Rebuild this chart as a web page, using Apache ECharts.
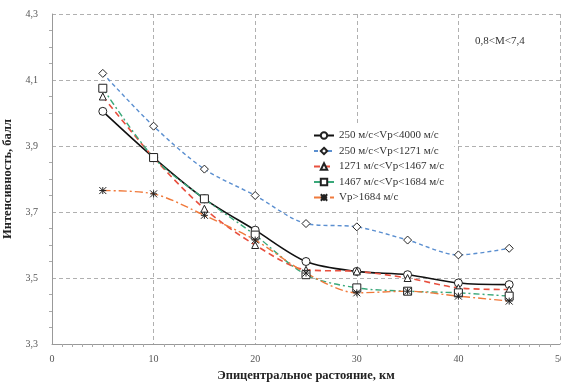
<!DOCTYPE html>
<html>
<head>
<meta charset="utf-8">
<script src="https://cdn.jsdelivr.net/npm/echarts@6/dist/echarts.min.js"></script>
<style>html,body{margin:0;padding:0;background:#fff}#c{width:561px;height:386px}</style>
</head>
<body>
<div id="c"></div>
<script>
var distances = [5, 10, 15, 20, 25, 30, 35, 40, 45];
var seriesNames = ['250 м/с<Vp<4000 м/с', '250 м/с<Vp<1271 м/с', '1271 м/с<Vp<1467 м/с', '1467 м/с<Vp<1684 м/с', 'Vp>1684 м/с'];
var sAll   = [4.005, 3.865, 3.74, 3.645, 3.55, 3.52, 3.51, 3.485, 3.48];
var s1271  = [4.12, 3.96, 3.83, 3.75, 3.665, 3.655, 3.615, 3.57, 3.59];
var s1467  = [4.05, 3.865, 3.71, 3.60, 3.525, 3.52, 3.50, 3.47, 3.465];
var s1684  = [4.075, 3.865, 3.74, 3.63, 3.51, 3.47, 3.46, 3.455, 3.445];
var sHigh  = [3.765, 3.755, 3.69, 3.615, 3.515, 3.455, 3.46, 3.445, 3.43];
var noteText = '0,8<M<7,4';

function pairs(v){ return distances.map(function(x,i){ return [x, v[i]]; }); }
var star = 'path://M0,0L10,10M10,0L0,10M5,0L5,10M0,5L10,5';
var font = 'Liberation Serif, Times New Roman, serif';

function mk(name, data, color, lineType, symbol, width, symSize){
  return {
    name: name, type: 'line', data: pairs(data), smooth: 0.3,
    symbol: symbol, symbolSize: symSize || 7, showAllSymbol: true,
    lineStyle: {color: color, type: lineType, width: width},
    itemStyle: {color: '#fff', borderColor: '#222', borderWidth: 1},
    emphasis: {disabled: true}
  };
}

var chart = echarts.init(document.getElementById('c'), null, {renderer: 'canvas'});
chart.setOption({
  animation: false,
  backgroundColor: '#fff',
  textStyle: {fontFamily: font},
  grid: {left: 52, top: 14, right: 1, bottom: 42, containLabel: false, outerBoundsMode: 'none'},
  xAxis: {
    type: 'value', min: 0, max: 50, interval: 10,
    name: 'Эпицентральное растояние, км', nameLocation: 'middle', nameGap: 25,
    nameTextStyle: {fontFamily: font, fontWeight: 'bold', fontSize: 12.5, color: '#222'},
    axisLine: {lineStyle: {color: '#999'}},
    axisTick: {show: false},
    minorTick: {show: true, splitNumber: 10, length: 3, lineStyle: {color: '#aaa'}},
    axisLabel: {fontFamily: font, fontSize: 10, color: '#555', margin: 10},
    splitLine: {show: true, lineStyle: {color: '#b0b0b0', type: [4, 3]}}
  },
  yAxis: {
    type: 'value', min: 3.3, max: 4.3, interval: 0.2,
    name: 'Интенсивность, балл', nameLocation: 'middle', nameGap: 38,
    nameTextStyle: {fontFamily: font, fontWeight: 'bold', fontSize: 12.5, color: '#222'},
    axisLine: {show: true, lineStyle: {color: '#999'}},
    axisTick: {show: false},
    minorTick: {show: true, splitNumber: 4, length: 3, lineStyle: {color: '#aaa'}},
    axisLabel: {fontFamily: font, fontSize: 10, color: '#555', margin: 14,
      formatter: function(v){ return v.toFixed(1).replace('.', ','); }},
    splitLine: {show: true, lineStyle: {color: '#b0b0b0', type: [4, 3]}}
  },
  legend: {
    show: true, orient: 'vertical', left: 307, top: 125,
    backgroundColor: '#fff', padding: [5, 10, 5, 6],
    itemWidth: 20, itemHeight: 8, itemGap: 4.5,
    textStyle: {fontFamily: font, fontSize: 11, color: '#333'},
    data: seriesNames
  },
  graphic: [{
    type: 'text', left: 475, top: 36,
    style: {text: noteText, fontFamily: font, fontSize: 11, fill: '#333'}
  }],
  series: [
    mk(seriesNames[0], sAll, '#111', 'solid', 'circle', 1.6, 8),
    mk(seriesNames[1], s1271, '#5b8fd0', [4, 3], 'diamond', 1.4, 8),
    mk(seriesNames[2], s1467, '#e8503f', [6, 4], 'triangle', 1.6, 7),
    mk(seriesNames[3], s1684, '#3aa87a', [6, 3, 2, 3], 'rect', 1.4, 8),
    mk(seriesNames[4], sHigh, '#f07a3c', [8, 3, 2, 3], star, 1.4, 7)
  ]
});
</script>
</body>
</html>
